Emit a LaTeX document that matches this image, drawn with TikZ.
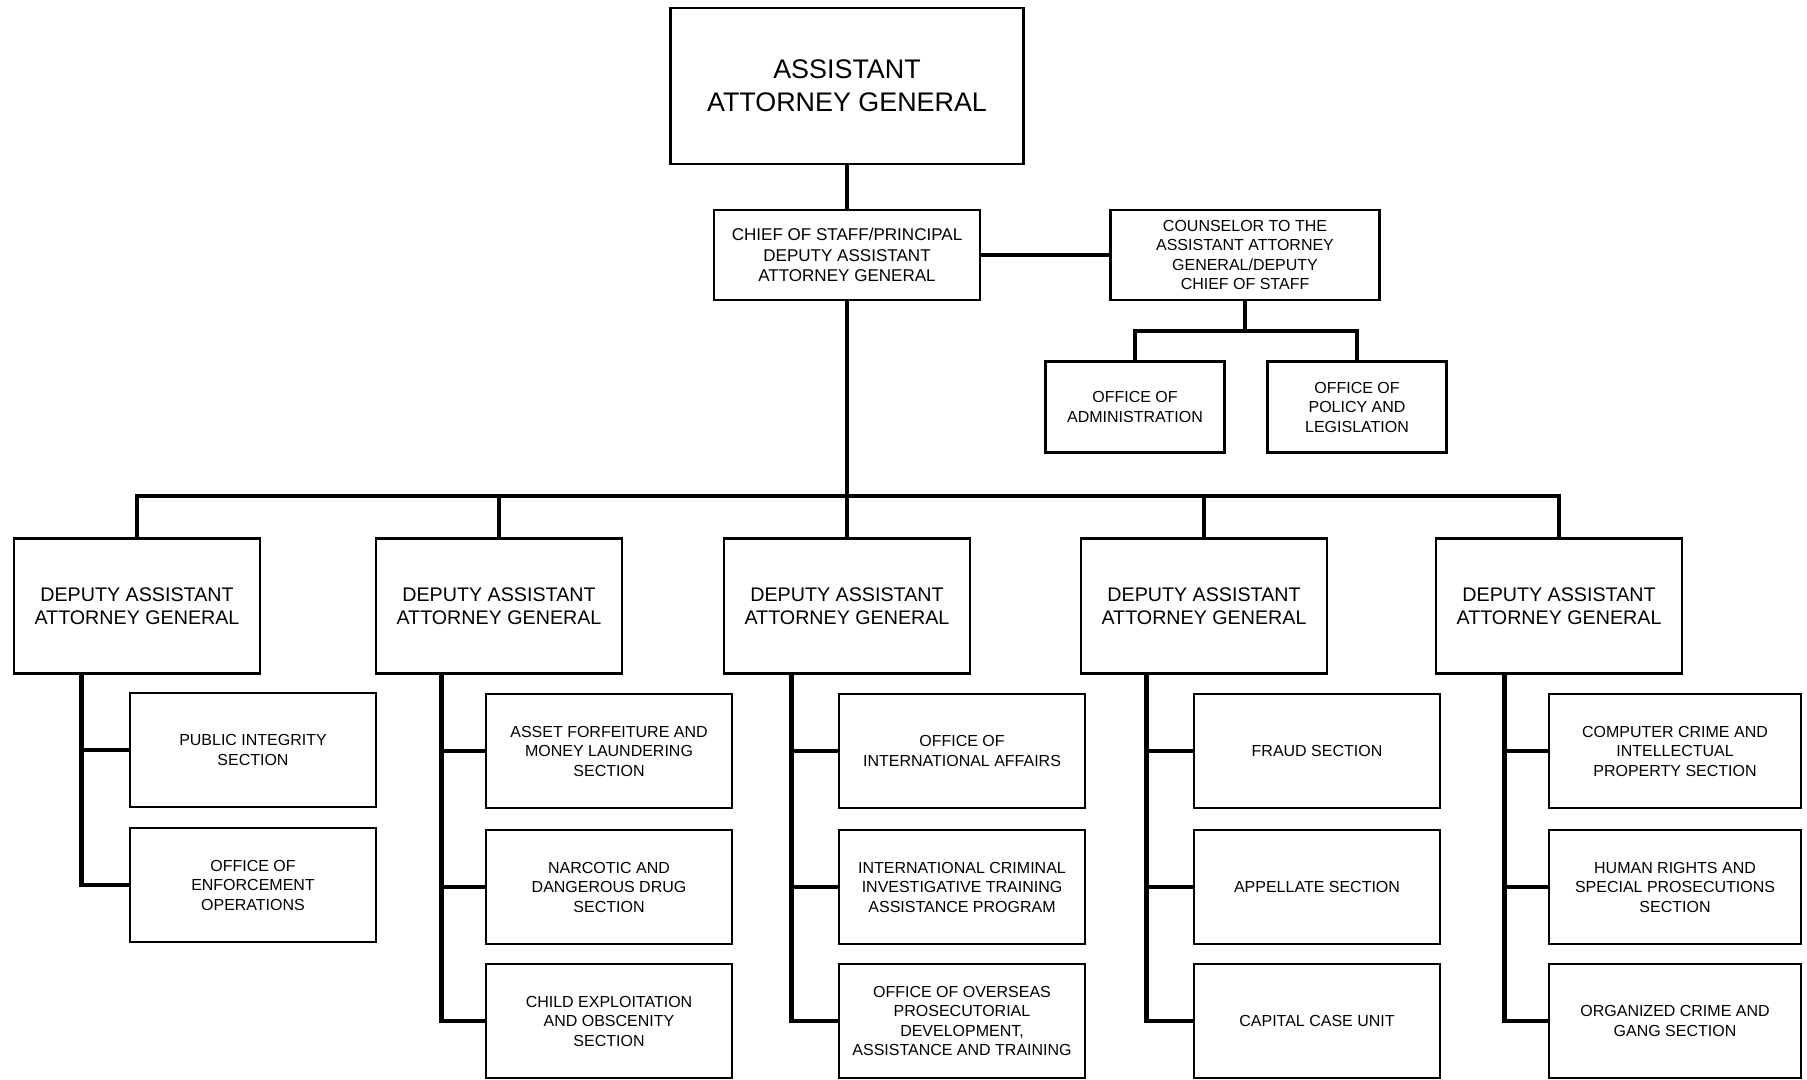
\documentclass[tikz,border=0pt]{standalone}
\usepackage{fontspec}
\setmainfont{Liberation Sans}

\begin{document}
\begin{tikzpicture}[x=0.2mm, y=-0.2mm,
    box/.style={draw, line width=1.6pt, align=center, inner sep=0pt,
      minimum width=49.2mm, minimum height=22.8mm,
      font=\fontsize{9.1}{11.1}\selectfont},
    daag/.style={box, minimum height=27mm,
      font=\fontsize{11.2}{13.2}\selectfont},
    link/.style={line width=2.6pt}]
  \useasboundingbox (0,0) rectangle (1807,1079);

  % top of the chart
  \node[box, minimum width=70.6mm, minimum height=31.2mm,
    font=\fontsize{15.3}{18.8}\selectfont] (AAG) at (847,86)
    {ASSISTANT\\ATTORNEY GENERAL};
  \node[box, minimum width=53.2mm, minimum height=18mm,
    font=\fontsize{9.7}{11.8}\selectfont] (COS) at (847,255)
    {CHIEF OF STAFF/PRINCIPAL\\DEPUTY ASSISTANT\\ATTORNEY GENERAL};
  \node[box, minimum width=53.8mm, minimum height=18mm,
    font=\fontsize{9.1}{10.9}\selectfont] (CNS) at (1245,255)
    {COUNSELOR TO THE\\ASSISTANT ATTORNEY\\GENERAL/DEPUTY\\CHIEF OF STAFF};
  \node[box, minimum width=35.8mm, minimum height=18.2mm] (ADM)
    at (1135,407) {OFFICE OF\\ADMINISTRATION};
  \node[box, minimum width=35.8mm, minimum height=18.2mm] (POL)
    at (1357,407) {OFFICE OF\\POLICY AND\\LEGISLATION};

  % deputy assistant attorneys general
  \node[daag] (D1) at (137,606) {DEPUTY ASSISTANT\\ATTORNEY GENERAL};
  \node[daag] (D2) at (499,606) {DEPUTY ASSISTANT\\ATTORNEY GENERAL};
  \node[daag] (D3) at (847,606) {DEPUTY ASSISTANT\\ATTORNEY GENERAL};
  \node[daag] (D4) at (1204,606) {DEPUTY ASSISTANT\\ATTORNEY GENERAL};
  \node[daag] (D5) at (1559,606) {DEPUTY ASSISTANT\\ATTORNEY GENERAL};

  % sections
  \node[box] (S11) at (253,750) {PUBLIC INTEGRITY\\SECTION};
  \node[box] (S12) at (253,885) {OFFICE OF\\ENFORCEMENT\\OPERATIONS};
  \node[box] (S21) at (609,751)
    {ASSET FORFEITURE AND\\MONEY LAUNDERING\\SECTION};
  \node[box] (S22) at (609,887) {NARCOTIC AND\\DANGEROUS DRUG\\SECTION};
  \node[box] (S23) at (609,1021)
    {CHILD EXPLOITATION\\AND OBSCENITY\\SECTION};
  \node[box] (S31) at (962,751) {OFFICE OF\\INTERNATIONAL AFFAIRS};
  \node[box] (S32) at (962,887)
    {INTERNATIONAL CRIMINAL\\INVESTIGATIVE TRAINING\\ASSISTANCE PROGRAM};
  \node[box] (S33) at (962,1021) {OFFICE OF OVERSEAS\\PROSECUTORIAL\\
    DEVELOPMENT,\\ASSISTANCE AND TRAINING};
  \node[box] (S41) at (1317,751) {FRAUD SECTION};
  \node[box] (S42) at (1317,887) {APPELLATE SECTION};
  \node[box] (S43) at (1317,1021) {CAPITAL CASE UNIT};
  \node[box, minimum width=50.4mm] (S51) at (1675,751)
    {COMPUTER CRIME AND\\INTELLECTUAL\\PROPERTY SECTION};
  \node[box, minimum width=50.4mm] (S52) at (1675,887)
    {HUMAN RIGHTS AND\\SPECIAL PROSECUTIONS\\SECTION};
  \node[box, minimum width=50.4mm] (S53) at (1675,1021)
    {ORGANIZED CRIME AND\\GANG SECTION};

  % connectors
  \coordinate (bus) at (847,496);
  \coordinate (cj) at (1245,331);
  \draw[link] (AAG.south) -- (COS.north);
  \draw[link] (COS.east) -- (CNS.west);
  \draw[link] (CNS.south) -- (cj);
  \draw[link] (ADM.north) |- (cj) -| (POL.north);
  \draw[link] (COS.south) -- (bus);
  \draw[link] (D1.north) |- (bus) -| (D5.north);
  \draw[link] (D2.north) -- (D2.north |- bus);
  \draw[link] (D3.north) -- (bus);
  \draw[link] (D4.north) -- (D4.north |- bus);

  \coordinate (t1) at ([xshift=13.8mm]D1.south west);
  \coordinate (t2) at ([xshift=13.4mm]D2.south west);
  \coordinate (t3) at ([xshift=13.8mm]D3.south west);
  \coordinate (t4) at ([xshift=13.4mm]D4.south west);
  \coordinate (t5) at ([xshift=14mm]D5.south west);
  \draw[link] (t1) |- (S12.west);
  \draw[link] (S11.west) -- (S11.west -| t1);
  \draw[link] (t2) |- (S23.west);
  \draw[link] (S21.west) -- (S21.west -| t2);
  \draw[link] (S22.west) -- (S22.west -| t2);
  \draw[link] (t3) |- (S33.west);
  \draw[link] (S31.west) -- (S31.west -| t3);
  \draw[link] (S32.west) -- (S32.west -| t3);
  \draw[link] (t4) |- (S43.west);
  \draw[link] (S41.west) -- (S41.west -| t4);
  \draw[link] (S42.west) -- (S42.west -| t4);
  \draw[link] (t5) |- (S53.west);
  \draw[link] (S51.west) -- (S51.west -| t5);
  \draw[link] (S52.west) -- (S52.west -| t5);
\end{tikzpicture}
\end{document}
